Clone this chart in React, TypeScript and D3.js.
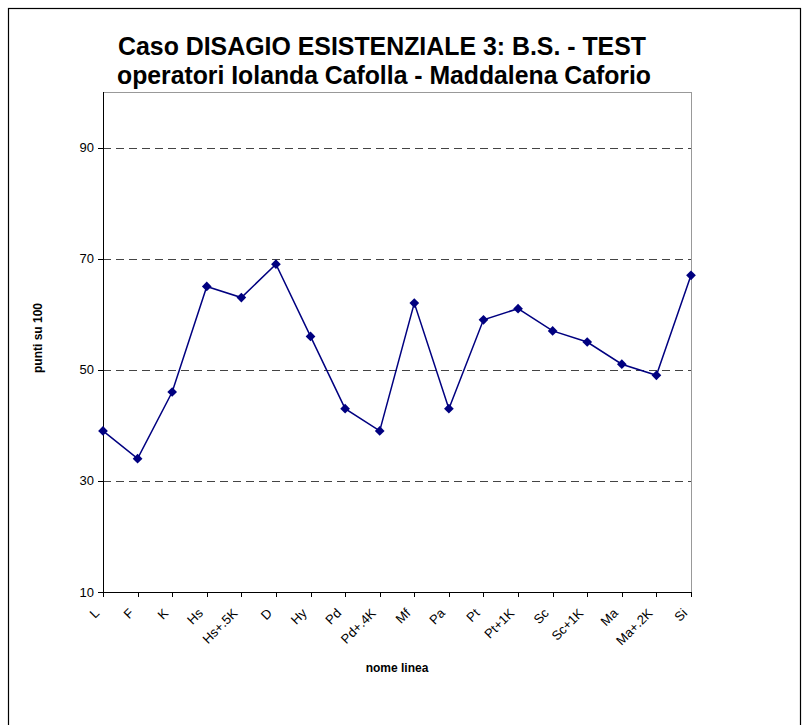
import React from "react";
import * as d3 from "d3";

const categories = ["L", "F", "K", "Hs", "Hs+.5K", "D", "Hy", "Pd", "Pd+.4K", "Mf", "Pa", "Pt", "Pt+1K", "Sc", "Sc+1K", "Ma", "Ma+.2K", "Si"];
const values = [39, 34, 46, 65, 63, 69, 56, 43, 39, 62, 43, 59, 61, 57, 55, 51, 49, 67];
const yTicks = [10, 30, 50, 70, 90];
const titleLines = ["Caso DISAGIO ESISTENZIALE 3: B.S. - TEST", "operatori Iolanda Cafolla - Maddalena Caforio"];
const yLabel = "punti su 100";
const xLabel = "nome linea";

export default function App() {
  const left = 103, right = 691, top = 92, bottom = 592;
  const x = d3.scalePoint<string>().domain(categories).range([left, right]);
  const y = d3.scaleLinear().domain([10, 100]).range([bottom, top]);
  const line = d3.line<number>().x((_, i) => x(categories[i])!).y((d) => y(d));
  const diamond = d3.symbol().type(d3.symbolDiamond2).size(60)();
  const font = "'Liberation Sans', Arial, sans-serif";

  return (
    <svg width={803} height={725} style={{ position: "absolute", left: 0, top: 0, background: "#fff" }} fontFamily={font}>
      <rect x={8.5} y={8.5} width={792} height={740} fill="#fff" stroke="#000" strokeWidth={1.2} />
      {/* title */}
      <text x={382} y={55} textAnchor="middle" fontSize={25} fontWeight="bold" textLength={528} lengthAdjust="spacingAndGlyphs">{titleLines[0]}</text>
      <text x={384} y={84} textAnchor="middle" fontSize={25} fontWeight="bold" textLength={534} lengthAdjust="spacingAndGlyphs">{titleLines[1]}</text>
      {/* plot border (gray) */}
      <line x1={left} x2={right} y1={top + 0.5} y2={top + 0.5} stroke="#999" strokeWidth={1} />
      <line x1={right + 0.5} x2={right + 0.5} y1={top} y2={bottom} stroke="#999" strokeWidth={1} />
      {/* gridlines */}
      {yTicks.filter((t) => t !== 10).map((t) => (
        <line key={t} x1={left} x2={right} y1={Math.round(y(t)) + 0.5} y2={Math.round(y(t)) + 0.5} stroke="#444" strokeWidth={1} strokeDasharray="8,5" />
      ))}
      {/* y axis */}
      <line x1={left + 0.5} x2={left + 0.5} y1={top} y2={bottom} stroke="#000" strokeWidth={1} />
      {yTicks.map((t) => (
        <g key={t}>
          <line x1={left - 5} x2={left} y1={Math.round(y(t)) + 0.5} y2={Math.round(y(t)) + 0.5} stroke="#000" />
          <text x={left - 9} y={y(t) + 4.5} textAnchor="end" fontSize={13}>{t}</text>
        </g>
      ))}
      {/* x axis */}
      <line x1={left} x2={right + 1} y1={bottom + 0.5} y2={bottom + 0.5} stroke="#000" strokeWidth={1} />
      {categories.map((c) => (
        <g key={c}>
          <line x1={Math.round(x(c)!) + 0.5} x2={Math.round(x(c)!) + 0.5} y1={bottom} y2={bottom + 5} stroke="#000" />
          <text transform={`translate(${x(c)! - 3},${bottom + 22}) rotate(-45)`} textAnchor="end" fontSize={13}>{c}</text>
        </g>
      ))}
      {/* axis titles */}
      <text transform={`translate(42,${(top + bottom) / 2 - 4}) rotate(-90)`} textAnchor="middle" fontSize={12} fontWeight="bold">{yLabel}</text>
      <text x={(left + right) / 2} y={672} textAnchor="middle" fontSize={12} fontWeight="bold">{xLabel}</text>
      {/* series */}
      <path d={line(values)!} fill="none" stroke="#000080" strokeWidth={1.5} />
      {values.map((v, i) => (
        <path key={i} d={diamond!} transform={`translate(${x(categories[i])},${y(v)})`} fill="#000080" />
      ))}
    </svg>
  );
}
